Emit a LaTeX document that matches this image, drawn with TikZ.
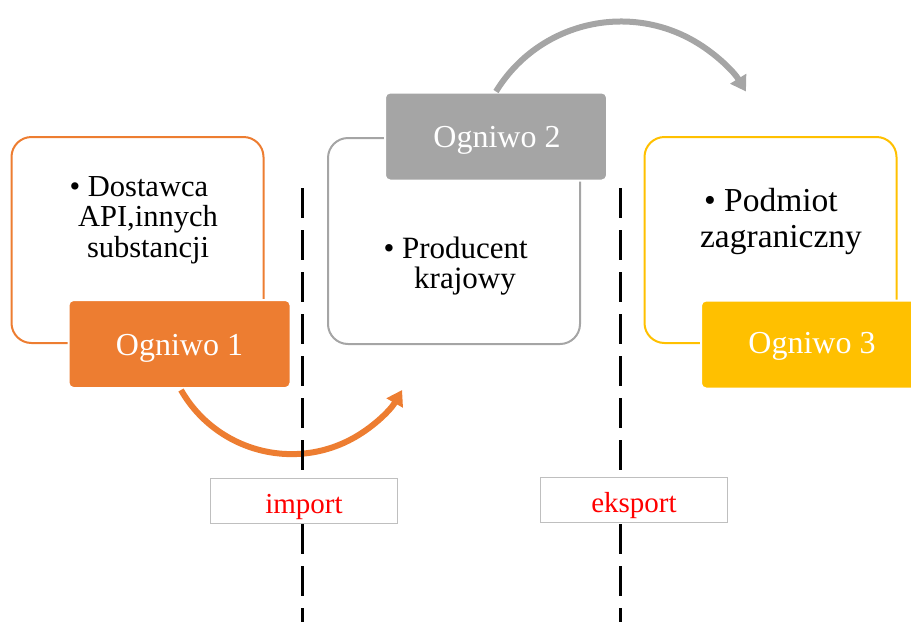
\documentclass[tikz,border=0pt]{standalone}
\usepackage{fontspec}
\setmainfont{Liberation Serif}
\usetikzlibrary{arrows.meta}
\definecolor{corange}{HTML}{ED7D31}
\definecolor{cgrey}{HTML}{A5A5A5}
\definecolor{cgold}{HTML}{FFC000}
\definecolor{clabel}{HTML}{BFBFBF}
\tikzset{
  outlinebox/.style={draw, line width=2pt, rounded corners=20pt, minimum width=252pt, minimum height=206pt, inner sep=0pt},
  chainbox/.style={draw=white, line width=2pt, rounded corners=5pt, minimum width=222pt, minimum height=88pt, inner sep=0pt},
  chaintext/.style={text=white, font=\fontsize{32}{36}\selectfont, anchor=base, inner sep=0pt},
  desctext/.style={align=center, inner sep=0pt, text=black},
  flowarrow/.style={line width=6pt, -{Triangle[length=15pt,width=18pt]}},
  border/.style={line width=3pt, dash pattern=on 30pt off 12pt, black},
  labelbox/.style={draw=clabel, line width=1.5pt, fill=white, minimum width=187pt, minimum height=45pt, inner sep=0pt},
  labeltext/.style={text=red, font=\fontsize{29}{32}\selectfont, anchor=base, inner sep=0pt}
}
\begin{document}
\begin{tikzpicture}[x=1pt,y=1pt]
\useasboundingbox (0,0) rectangle (911,-622);
% outline boxes
\node[outlinebox, draw=corange] (b1) at (137.5,-240) {};
\node[outlinebox, draw=cgrey] (b2) at (454,-241) {};
\node[outlinebox, draw=cgold] (b3) at (770.5,-240) {};
% descriptions
\node[desctext, font=\fontsize{30.5}{30.5}\selectfont] (d1) at (148,-220) {\llap{\textbullet\ }Dostawca\\API,innych\\substancji};
\node[desctext, font=\fontsize{31}{30.5}\selectfont] (d2) at (465,-266) {\llap{\textbullet\ }Producent\\krajowy};
\node[desctext, font=\fontsize{33.5}{36}\selectfont] (d3) at (781,-221) {\llap{\textbullet\ }Podmiot\\zagraniczny};
% chain boxes
\node[chainbox, fill=corange] (o1) at (179.5,-344) {};
\node[chainbox, fill=cgrey] (o2) at (496,-136.5) {};
\node[chainbox, fill=cgold] (o3) at (812,-344.5) {};
\node[chaintext] (t1) at (179.5,-355) {Ogniwo 1};
\node[chaintext] (t2) at (497,-147) {Ogniwo 2};
\node[chaintext] (t3) at (812,-353) {Ogniwo 3};
% arrows
\draw[flowarrow, corange] ([xshift=1.5pt,yshift=-1pt]o1.south) arc[start angle=209.8, end angle=330.2, radius=127.4];
\draw[flowarrow, cgrey] (o2.north) arc[start angle=148.5, end angle=31.5, radius=146.6];
% borders
\coordinate (l1top) at (302,-188);
\coordinate (l1bot) at (302,-622);
\coordinate (l2top) at (620,-188);
\coordinate (l2bot) at (620,-622);
\draw[border] (l1top) -- (l1bot);
\draw[border] (l2top) -- (l2bot);
% labels
\node[labelbox] (imp) at (304,-501) {};
\node[labelbox] (eks) at (634,-500) {};
\node[labeltext] (impt) at (304,-513) {import};
\node[labeltext] (ekst) at (634,-512) {eksport};
\end{tikzpicture}
\end{document}
